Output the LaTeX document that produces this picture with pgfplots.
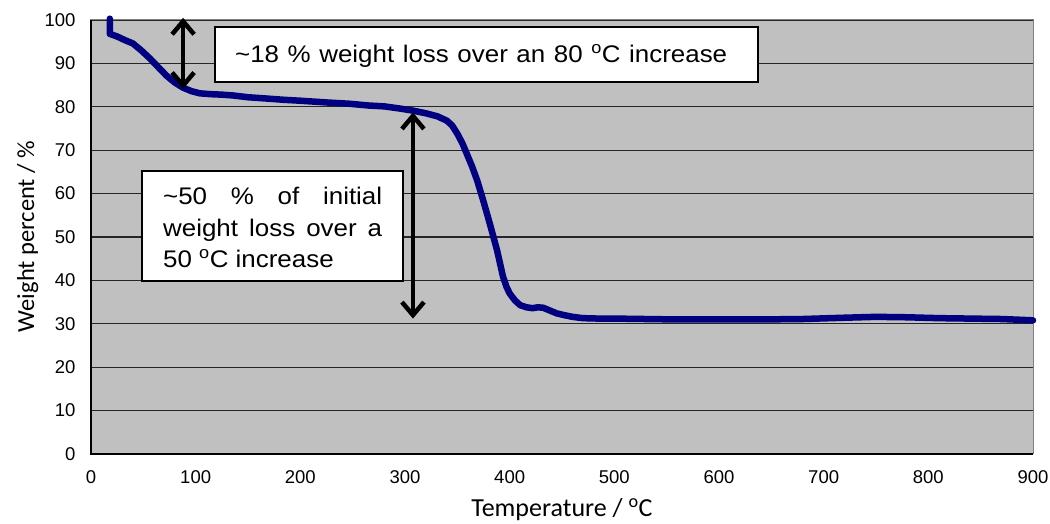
\documentclass[border=0pt]{standalone}
\usepackage{pgfplots}
\pgfplotsset{compat=1.18}
\usepackage{fontspec}
\setmainfont{Liberation Sans}
\newfontfamily\boxfont[FakeStretch=1.08]{Liberation Sans}
\newfontfamily\labelfont{Carlito}
\usetikzlibrary{arrows.meta}
\definecolor{plotbg}{HTML}{C0C0C0}
\definecolor{curve}{HTML}{000080}
\definecolor{frame}{HTML}{808080}
\begin{document}
\begin{tikzpicture}
\useasboundingbox (-91pt,-70pt) rectangle (959pt,454pt);
\begin{axis}[
  scale only axis,
  width=942pt, height=434pt,
  xmin=0, xmax=900, ymin=0, ymax=100,
  xtick distance=100, ytick distance=10,
  axis background/.style={fill=plotbg},
  axis line style={draw=frame, line width=1pt},
  ymajorgrids,
  grid style={black!85, line width=1.2pt},
  major tick length=0pt,
  /pgf/number format/assume math mode=true,
  tick label style={font=\fontsize{18.5}{20}\selectfont},
  yticklabel style={xshift=-12pt},
  xticklabel style={yshift=-13pt},
  xlabel={\labelfont Temperature / \textsuperscript{o}C},
  ylabel={\labelfont Weight percent / \%},
  xlabel style={font=\fontsize{26}{28}\selectfont, at={(axis description cs:0.5,-0.1440)}, anchor=base},
  ylabel style={font=\fontsize{24.5}{26}\selectfont, at={(axis description cs:-0.0605,0.501)}, anchor=base},
  clip=false,
]
\draw[black, line width=1.5pt] (rel axis cs:0,1) -- (rel axis cs:0,0) -- (rel axis cs:1,0);
\addplot[curve, line width=6.5pt, line cap=round, line join=round] coordinates {
(18,100.3)(18,96.8)(25,96.2)(32,95.4)(40,94.6)(48,93.0)(56,91.2)(64,89.2)
(72,87.2)(80,85.6)(88,84.4)(96,83.6)(104,83.1)(115,82.9)(125,82.8)(136,82.6)
(150,82.2)(168,81.9)(185,81.6)(200,81.4)(225,81.0)(247,80.7)(265,80.3)(280,80.1)
(295,79.6)(308,79.1)(320,78.5)(331,77.8)(340,76.8)(345,75.7)(350,73.8)(355,71.5)
(359,69.2)(364,66.3)(369,63.0)(374.5,58.6)(381,53.1)(388,46.9)(393.6,40.9)(397,38.5)
(400,37.0)(405,35.4)(410,34.3)(416,33.8)(422,33.6)(427,33.8)(432,33.7)(438,33.1)
(445,32.4)(452,32.0)(460,31.6)(470,31.3)(485,31.2)(500,31.2)(530,31.1)(560,31.0)
(600,31.0)(640,31.0)(680,31.1)(720,31.4)(750,31.6)(780,31.5)(810,31.3)(840,31.2)
(870,31.1)(900,30.8)
};
\draw[black, line width=4.5pt, {Straight Barb[length=13pt,width=22pt]}-{Straight Barb[length=13pt,width=22pt]}]
  (axis cs:88,100.5) -- (axis cs:88,84.1);
\draw[black, line width=4.5pt, {Straight Barb[length=13pt,width=22pt]}-{Straight Barb[length=13pt,width=22pt]}]
  (axis cs:307.6,78.7) -- (axis cs:307.6,31.2);
\end{axis}
% annotation boxes (1pt = 1px, origin at axis lower-left)
\draw[black, line width=2pt, fill=white] (124pt,372pt) rectangle (667pt,427pt);
\node[anchor=base west, inner sep=0pt, font=\boxfont\fontsize{24}{26}\selectfont] at (144pt,391pt)
  {\makebox[492pt][s]{\textasciitilde 18 \% weight loss over an 80 \textsuperscript{o}C increase}};
\draw[black, line width=2pt, fill=white] (51pt,173pt) rectangle (312pt,283pt);
\begin{scope}[every node/.style={anchor=base west, inner sep=0pt, font=\boxfont\fontsize{24}{26}\selectfont}]
\node at (72pt,249pt) {\makebox[219pt][s]{\textasciitilde 50 \% of initial}};
\node at (72pt,217pt) {\makebox[219pt][s]{weight loss over a}};
\node at (72pt,186pt) {50 \textsuperscript{o}C increase};
\end{scope}
\end{tikzpicture}
\end{document}
